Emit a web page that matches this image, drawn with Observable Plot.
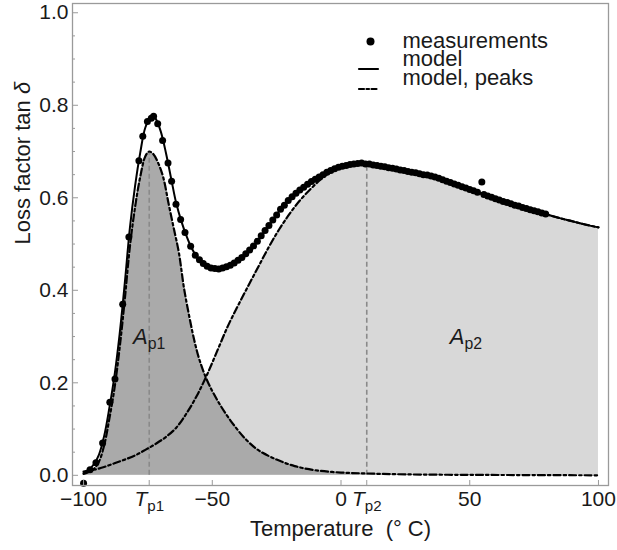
<!DOCTYPE html>
<html><head><meta charset="utf-8">
<script src="https://cdn.jsdelivr.net/npm/d3@7"></script>
<script src="https://cdn.jsdelivr.net/npm/@observablehq/plot@0.6"></script>
<style>html,body{margin:0;padding:0;background:#fff} svg{display:block}</style>
</head><body><div id="chart"></div>
<script>
// ---- data ----
const modelT = [-100,-98,-96,-94,-92,-90,-88,-86,-84,-82,-80,-78,-76,-74,-73,-72,-70,-68,-66,-64,-62,-60,-58,-56,-54,-52,-50,-48,-46,-44,-42,-40,-38,-36,-34,-32,-28,-24,-20,-16,-12,-8,-4,0,4,8,12,16,20,25,30,35,40,45,50,55,60,65,70,75,80,85,90,95,100];
const modelV = [0.005,0.012,0.024,0.045,0.085,0.145,0.215,0.305,0.415,0.535,0.625,0.697,0.752,0.773,0.776,0.771,0.743,0.697,0.642,0.588,0.549,0.517,0.491,0.473,0.461,0.453,0.448,0.446,0.448,0.452,0.457,0.464,0.473,0.484,0.496,0.509,0.540,0.571,0.596,0.617,0.633,0.646,0.658,0.667,0.672,0.674,0.672,0.668,0.664,0.658,0.652,0.647,0.638,0.628,0.618,0.608,0.598,0.589,0.580,0.572,0.564,0.556,0.549,0.542,0.536];

const peak1T = [-100,-98,-96,-94,-92,-90,-88,-86,-84,-82,-80,-78,-76,-74.5,-73,-71,-69,-67,-65,-63,-61,-59,-57,-55,-52,-48,-43,-37,-32,-25,-18,-10,0,10,25,50,75,100];
const peak1V = [0.003,0.007,0.014,0.030,0.065,0.122,0.188,0.275,0.380,0.495,0.580,0.645,0.690,0.700,0.695,0.675,0.643,0.588,0.535,0.482,0.405,0.345,0.292,0.250,0.205,0.162,0.119,0.078,0.054,0.034,0.020,0.011,0.006,0.004,0.002,0.001,0.0005,0];

const peak2T = [-100,-96,-92,-88,-84,-80,-76,-72,-68,-64,-60,-56,-52,-48,-44,-40,-36,-32,-28,-24,-20,-16,-12,-8,-4,0,4,8,10,12,16,20,25,30,35,40,45,50,55,60,65,70,75,80,85,90,95,100];
const peak2V = [0.008,0.012,0.018,0.026,0.034,0.043,0.055,0.068,0.083,0.103,0.134,0.172,0.218,0.270,0.322,0.367,0.410,0.452,0.494,0.532,0.565,0.594,0.618,0.639,0.655,0.665,0.670,0.672,0.672,0.671,0.668,0.664,0.658,0.652,0.646,0.638,0.628,0.618,0.608,0.598,0.589,0.580,0.572,0.564,0.556,0.549,0.542,0.536];

const measT = [-100,-97.5,-95.2,-92.6,-89.8,-87.8,-84.8,-82.4,-78.5,-77,-75.2,-73.7,-72.8,-71.2,-69.3,-67.2,-65.8,-64.1,-62.3,-60.6,-58.4,-56.6,-55,-53.5,-52,-50.5,-49,-47.5,-46,-44.5,-43,-41.5,-40,-38.5,-37,-35.5,-34,-32.5,-31,-29.5,-28,-26.5,-25,-23.5,-22,-20.5,-19,-17.5,-16,-14.5,-13,-11.5,-10,-8.5,-7,-5.5,-4,-2.5,-1,0.5,2,3.5,5,6.5,8,9.5,11,12.5,14,15.5,17,18.5,20,21.5,23,24.5,26,27.5,29,30.5,32,33.5,35,36.5,38,39.5,41,42.5,44,45.5,47,48.5,50,51.5,53,54.7,55.5,57,58.5,60,61.5,63,64.5,66,67.5,69,70.5,72,73.5,75,76.5,78,79.5];
const measV = [-0.017,0.012,0.027,0.070,0.158,0.208,0.370,0.515,0.680,0.733,0.765,0.772,0.776,0.760,0.724,0.675,0.636,0.586,0.553,0.525,0.495,0.476,0.466,0.458,0.452,0.448,0.447,0.446,0.448,0.451,0.454,0.459,0.465,0.471,0.479,0.487,0.496,0.506,0.518,0.529,0.540,0.552,0.563,0.575,0.584,0.594,0.602,0.610,0.617,0.623,0.629,0.635,0.640,0.645,0.650,0.655,0.659,0.663,0.666,0.668,0.670,0.672,0.673,0.674,0.675,0.673,0.673,0.671,0.670,0.668,0.667,0.665,0.664,0.662,0.660,0.659,0.657,0.655,0.654,0.652,0.650,0.649,0.647,0.645,0.642,0.639,0.636,0.633,0.630,0.627,0.624,0.621,0.618,0.615,0.612,0.634,0.607,0.604,0.601,0.598,0.595,0.592,0.590,0.587,0.584,0.582,0.579,0.577,0.574,0.572,0.570,0.567,0.565];

const Tp1 = -74.5, Tp2 = 10;
const peak1Max = 0.70, peak2Max = 0.672;
const xTicks = [-100, Tp1, -50, 0, Tp2, 50, 100];
const yTicks = [0, 0.2, 0.4, 0.6, 0.8, 1.0];
const yMinorTicks = [0.05,0.1,0.15,0.25,0.3,0.35,0.45,0.5,0.55,0.65,0.7,0.75,0.85,0.9,0.95];
const legendLabels = ["measurements", "model", "model, peaks"];
const areaLabels = ["Ap1", "Ap2"];
const xLabel = "Temperature  (° C)";
const yLabel = "Loss factor tan δ";

// ---- tables ----
const zip = (T, V) => T.map((t, i) => ({T: t, v: V[i]}));
const model = zip(modelT, modelV);
const peak1 = zip(peak1T, peak1V);
const peak2 = zip(peak2T, peak2V);
const meas = zip(measT, measV);
const tpRules = [{T: Tp1, v: peak1Max}, {T: Tp2, v: peak2Max}];
const areaPos = [{T: Tp1, v: 0.30, text: areaLabels[0]}, {T: 48.5, v: 0.30, text: areaLabels[1]}];

const font = "'Liberation Sans', Arial, Helvetica, sans-serif";
const fmtX = d => d === Tp1 ? "Tp1" : d === Tp2 ? "Tp2" : (d < 0 ? "\u2212" + Math.abs(d) : String(d));
const dashDot = "7,3,2.5,3";
const hline = {draw(ctx, l) { ctx.moveTo(-l / 2, 0); ctx.lineTo(l / 2, 0); }};
const ink = "#1a1a1a";

const chart = Plot.plot({
  width: 617, height: 550,
  marginLeft: 72, marginRight: 9, marginTop: 3, marginBottom: 65,
  style: {fontFamily: font, fontSize: "21px", color: ink, background: "#fff", overflow: "visible"},
  x: {domain: [-104.3, 103.9]},
  y: {domain: [-0.022, 1.02]},
  marks: [
    Plot.areaY(peak2, {x: "T", y: "v", fill: "#d8d8d8", curve: "catmull-rom"}),
    Plot.areaY(peak1, {x: "T", y: "v", fill: "#aaaaaa", curve: "catmull-rom"}),
    Plot.ruleX(tpRules, {x: "T", y1: 0, y2: "v", stroke: "#8a8a8a", strokeWidth: 1.6, strokeDasharray: "5,3"}),
    Plot.line(peak1, {x: "T", y: "v", stroke: "#000", strokeWidth: 2.2, strokeDasharray: dashDot, curve: "catmull-rom"}),
    Plot.line(peak2, {x: "T", y: "v", stroke: "#000", strokeWidth: 2.2, strokeDasharray: dashDot, curve: "catmull-rom"}),
    Plot.line(model, {x: "T", y: "v", stroke: "#000", strokeWidth: 2, curve: "catmull-rom"}),
    Plot.dot(meas, {x: "T", y: "v", r: 3.5, fill: "#000", stroke: null}),
    Plot.frame({stroke: "#9a9a9a", strokeWidth: 1.3}),
    Plot.axisY(yMinorTicks, {tickSize: -3, tickFormat: () => "", stroke: "#9a9a9a", label: null}),
    Plot.axisY(yTicks, {tickSize: -6, tickPadding: 10, tickFormat: d3.format(".1f"), stroke: "#9a9a9a", fill: ink, fontSize: 21, label: null}),
    Plot.axisX(xTicks, {tickSize: -5, tickPadding: 11, tickFormat: fmtX, stroke: "#9a9a9a", fill: ink, fontSize: 21, label: null}),
    Plot.text(areaPos, {x: "T", y: "v", text: "text", fontSize: 22, fill: ink, lineAnchor: "middle"}),
    Plot.text([yLabel], {frameAnchor: "left", dx: -50, rotate: -90, fontSize: 22, fill: ink, lineAnchor: "middle"}),
    Plot.text([xLabel], {frameAnchor: "bottom", dy: 43, fontSize: 22, fill: ink, lineAnchor: "middle"}),
    // legend
    Plot.dot([0], {frameAnchor: "top-left", dx: 298, dy: 38, r: 4, fill: "#000"}),
    Plot.vector([0], {frameAnchor: "top-left", dx: 296, dy: 56, length: 19, shape: hline, stroke: "#000", strokeWidth: 2.2}),
    Plot.vector([0], {frameAnchor: "top-left", dx: 296, dy: 76, length: 19, shape: hline, stroke: "#000", strokeWidth: 2.2, strokeDasharray: "5,2.5,2.5,2.5"}),
    Plot.text([legendLabels[0]], {frameAnchor: "top-left", dx: 330, dy: 37, textAnchor: "start", lineAnchor: "middle", fontSize: 22, fill: ink}),
    Plot.text([legendLabels[1]], {frameAnchor: "top-left", dx: 330, dy: 55.5, textAnchor: "start", lineAnchor: "middle", fontSize: 22, fill: ink}),
    Plot.text([legendLabels[2]], {frameAnchor: "top-left", dx: 330, dy: 74, textAnchor: "start", lineAnchor: "middle", fontSize: 22, fill: ink})
  ]
});

// rich text: italic letters and subscripts
d3.select(chart).selectAll("text").each(function () {
  const t = this.textContent;
  const m = /^([TA])(p[12])$/.exec(t);
  const el = d3.select(this);
  if (m) {
    el.text(null);
    el.append("tspan").attr("font-style", "italic").text(m[1]);
    el.append("tspan").attr("font-size", "0.72em").attr("dy", "0.32em").text(m[2]);
  } else if (t === yLabel) {
    el.text(null);
    el.append("tspan").text("Loss factor tan ");
    el.append("tspan").attr("font-style", "italic").text("δ");
  }
});

document.getElementById("chart").appendChild(chart);
</script>
</body></html>
